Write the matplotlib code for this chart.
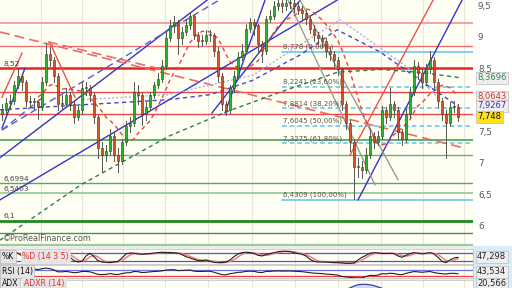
import matplotlib
matplotlib.use('Agg')
import matplotlib.pyplot as plt
import matplotlib.transforms as mtransforms
from matplotlib.patches import Rectangle
import numpy as np
import pandas as pd

# ---------------- data ----------------
closes = [7.86, 7.97, 8.00, 8.25, 8.40, 8.30, 8.00, 7.98, 7.98, 7.90,
          8.30, 8.75, 8.65, 8.40, 7.95, 7.95, 8.10, 7.95, 7.75, 7.85,
          8.20, 8.20, 8.10, 7.75, 7.25, 7.15, 7.20, 7.45, 7.15, 7.05,
          7.35, 7.60, 7.65, 8.15, 8.10, 7.80, 7.90, 8.10, 8.25, 8.35,
          8.55, 9.00, 9.20, 9.25, 9.00, 9.10, 9.20, 9.35, 9.05, 8.95,
          8.95, 9.05, 9.05, 8.80, 8.40, 7.95, 7.85, 8.20, 8.40, 8.70,
          8.80, 9.15, 9.25, 9.20, 8.90, 8.80, 9.30, 9.35, 9.50, 9.55,
          9.50, 9.55, 9.55, 9.50, 9.45, 9.40, 9.30, 9.15, 9.05, 9.00,
          8.95, 8.80, 8.75, 8.65, 8.50, 7.95, 7.65, 7.35, 6.95, 6.95,
          6.90, 7.15, 7.45, 7.35, 7.45, 7.85, 7.75, 7.95, 7.85, 7.50,
          7.40, 7.80, 8.15, 8.55, 8.45, 8.30, 8.50, 8.65, 8.30, 8.00,
          7.80, 7.65, 7.90, 7.90, 7.75]
first_open = 7.80
highs = [7.95, 8.05, 8.10, 8.32, 8.50, 8.45, 8.33, 8.08, 8.05, 8.02,
         8.38, 8.92, 8.85, 8.70, 8.45, 8.10, 8.20, 8.15, 8.00, 7.92,
         8.30, 8.30, 8.25, 8.12, 7.78, 7.35, 7.30, 7.55, 7.50, 7.25,
         7.40, 7.68, 7.75, 8.30, 8.25, 8.12, 7.98, 8.15, 8.30, 8.45,
         8.65, 9.10, 9.28, 9.35, 9.28, 9.18, 9.30, 9.42, 9.38, 9.10,
         9.05, 9.12, 9.12, 9.08, 8.85, 8.45, 8.00, 8.25, 8.48, 8.78,
         8.90, 9.22, 9.32, 9.30, 9.22, 8.95, 9.35, 9.45, 9.58, 9.62,
         9.62, 9.62, 9.62, 9.60, 9.55, 9.50, 9.45, 9.35, 9.20, 9.10,
         9.05, 9.00, 8.85, 8.80, 8.70, 8.52, 8.00, 7.70, 7.40, 7.10,
         7.05, 7.25, 7.55, 7.50, 7.52, 7.92, 7.90, 8.20, 8.00, 7.90,
         7.55, 7.88, 8.22, 8.65, 8.62, 8.50, 8.58, 8.80, 8.70, 8.35,
         8.05, 7.85, 7.98, 8.00, 7.95]
lows = [7.70, 7.80, 7.88, 7.95, 8.20, 8.18, 7.92, 7.90, 7.88, 7.72,
        7.85, 8.25, 8.55, 8.30, 7.85, 7.88, 7.90, 7.85, 7.65, 7.70,
        7.80, 8.10, 8.00, 7.65, 7.10, 6.87, 7.05, 7.15, 7.05, 6.87,
        7.00, 7.30, 7.50, 7.60, 7.95, 7.62, 7.70, 7.85, 8.05, 8.20,
        8.30, 8.50, 8.95, 9.10, 8.75, 8.90, 9.05, 9.15, 8.98, 8.85,
        8.88, 8.90, 8.95, 8.72, 8.30, 7.85, 7.78, 7.80, 8.15, 8.35,
        8.65, 8.75, 9.10, 9.05, 8.78, 8.62, 8.75, 9.25, 9.30, 9.45,
        9.42, 9.45, 9.48, 9.42, 9.38, 9.30, 9.22, 9.08, 8.95, 8.90,
        8.85, 8.70, 8.65, 8.55, 8.42, 7.85, 7.55, 7.20, 6.45, 6.80,
        6.78, 6.85, 7.10, 7.25, 7.30, 7.40, 7.65, 7.70, 7.75, 7.40,
        7.30, 7.35, 7.75, 8.10, 8.35, 8.20, 8.25, 8.45, 8.20, 7.90,
        7.70, 7.10, 7.60, 7.82, 7.68]

stoch_k = [50, 60, 75, 85, 80, 60, 40, 35, 30, 45,
           80, 90, 85, 70, 40, 78, 80, 50, 25, 15,
           20, 60, 80, 55, 25, 15, 12, 10, 15, 20,
           45, 75, 82, 80, 75, 72, 75, 78, 82, 85,
           88, 85, 85, 83, 80, 70, 55, 45, 35, 25,
           25, 30, 20, 12, 10, 10, 15, 30, 55, 75,
           85, 88, 85, 78, 65, 60, 70, 78, 85, 92,
           95, 95, 92, 85, 78, 72, 60, 35, 20, 15,
           15, 15, 12, 10, 10, 8, 5, 5, 8, 30,
           50, 65, 80, 85, 82, 78, 78, 80, 78, 60,
           50, 65, 78, 85, 80, 75, 80, 85, 75, 50,
           20, 10, 30, 45, 50]

adx = [22, 21, 20, 20, 21, 22, 23, 22, 21, 20,
       21, 23, 25, 24, 23, 22, 21, 20, 20, 21,
       22, 22, 21, 22, 24, 26, 27, 27, 26, 25,
       24, 23, 23, 24, 24, 23, 22, 22, 23, 25,
       27, 30, 32, 33, 33, 32, 31, 31, 30, 28,
       27, 26, 25, 24, 24, 25, 25, 24, 24, 25,
       25, 26, 27, 27, 26, 25, 26, 27, 28, 29,
       30, 30, 30, 29, 28, 27, 26, 25, 25, 24,
       24, 24, 25, 26, 28, 32, 37, 42, 46, 49,
       50, 50, 49, 47, 44, 41, 38, 34, 30, 28,
       26, 25, 24, 23, 22, 22, 21, 21, 21, 21,
       21, 21, 21, 21, 21]

ma_long_idx = [-0.5, 20, 42, 57, 70, 84, 95, 105, 114.5]
ma_long_val = [5.79, 6.68, 7.45, 7.85, 8.15, 8.46, 8.50, 8.45, 8.37]
ma_mid_idx = [-0.5, 20.25, 41.5, 52, 62.75, 74.5, 83.75, 94.5, 104.5, 114]
ma_mid_val = [7.86, 7.94, 8.02, 8.10, 8.33, 8.73, 9.13, 8.78, 8.33, 7.92]
ma_light_idx = [20.25, 41.5, 62.75, 74.5, 84.5, 101.25, 109.5]
ma_light_val = [8.02, 8.10, 8.41, 8.89, 9.29, 8.54, 8.02]

red_levels = [9.24, 8.87, 8.52, 8.14, 7.79]
green_levels = [7.38, 7.14, 6.6994, 6.5403, 6.1, 5.905, 5.71]
fib_levels = [8.778, 8.2241, 7.8814, 7.6045, 7.3275, 6.4309]
fib_texts = ['8,778 (0,00%)', '8,2241 (23,60%)', '7,8814 (38,20%)', '7,6045 (50,00%)',
             '7,3275 (61,80%)', '6,4309 (100,00%)']
fib_start = 70.0

blue_solid = [((-0.5, 7.10), (51.25, 9.60)),
              ((-0.5, 6.43), (83.75, 9.60)),
              ((0.0, 7.57), (5.75, 8.52)),
              ((55.75, 7.81), (65.75, 9.60)),
              ((52.5, 7.81), (74.5, 9.60)),
              ((89.0, 6.43), (115.0, 9.60))]
blue_dashed = [((0.0, 7.54), (54.25, 9.60)),
               ((0.0, 7.54), (10.25, 8.06))]
gray_lines = [((71.5, 9.60), (93.25, 6.67)),
              ((74.5, 9.60), (99.0, 6.75))]
red_solid = [((0.0, 8.06), (5.0, 8.76)),
             ((12.0, 8.92), (18.25, 8.06)),
             ((87.0, 7.14), (107.75, 9.60))]
red_dashed = [((-0.5, 9.095), (115.75, 7.25)),
              ((11.5, 8.94), (40.75, 8.49))]

grid_idx = [9.75, 20, 30.25, 40.75, 51.5, 62.5, 73.25, 84, 94.75, 105.25, 115.5]
price_ticks = [6.0, 6.5, 7.0, 7.5, 8.5, 9.0, 9.5]
left_labels = [(8.52, '8,52'), (6.6994, '6,6994'), (6.5403, '6,5403'), (6.1, '6,1')]

last_vals = [8.3696, 8.0643, 7.9267, 7.748]
stoch_last, rsi_last, adx_last = '47,298', '43,534', '20,566'

# ---------------- figure ----------------
W, H = 512, 288
plt.rcParams['font.family'] = ['DejaVu Sans']
fig = plt.figure(figsize=(W / 100, H / 100), dpi=100, facecolor='white')


def rect(x0, y0, x1, y1):
    return [x0 / W, 1 - y1 / H, (x1 - x0) / W, (y1 - y0) / H]


bg = fig.add_axes([0, 0, 1, 1], zorder=-10)
bg.set_xlim(0, W); bg.set_ylim(H, 0); bg.axis('off')
bg.add_patch(Rectangle((0, 246), 473, 42, facecolor='#ECECEC', edgecolor='none'))
bg.add_patch(Rectangle((473, 246), 39, 42, facecolor='#D9ECF7', edgecolor='none'))

n = len(closes)
idx = np.arange(n)
opens = [first_open] + closes[:-1]
XL = (-0.5, 117.75)

ax = fig.add_axes(rect(0, 0, 473, 246))
ax.set_facecolor('#FFFFF3')
ax.set_xlim(*XL)
ax.set_ylim(5.698, 9.603)
for s in ax.spines.values():
    s.set_visible(False)
ax.set_xticks([]); ax.set_yticks([])

for g in grid_idx:
    ax.axvline(g, color='#E6E6DC', lw=0.8, zorder=0)

red_styles = [('#F19A9A', 1.3), ('#EE7070', 1.0), ('#E4252A', 1.8), ('#E94848', 1.0), ('#E94848', 1.0)]
for lv, (c, w) in zip(red_levels, red_styles):
    ax.axhline(lv, color=c, lw=w, zorder=2)
green_styles = [('#3C9C3C', 1.1), ('#66B466', 1.0), ('#5BA85B', 1.0), ('#9ACC9A', 1.3),
                ('#1F8A1F', 2.0), ('#3C9C3C', 1.0), ('#9ACC9A', 1.6)]
for lv, (c, w) in zip(green_levels, green_styles):
    ax.axhline(lv, color=c, lw=w, zorder=2)

for k, (lv, t) in enumerate(zip(fib_levels, fib_texts)):
    solid = k in (0, len(fib_levels) - 1)
    ax.plot([fib_start, XL[1]], [lv, lv], color='#5EC3F0', lw=1.1,
            ls='-' if solid else (0, (3, 2)), zorder=3)
    ax.text(fib_start + 0.3, lv + 0.025, t, fontsize=5.0, color='#555555',
            va='bottom', ha='left', zorder=7)

for (a, b) in blue_solid:
    ax.plot([a[0], b[0]], [a[1], b[1]], color='#3434C8', lw=1.0, zorder=3)
for (a, b) in blue_dashed:
    ax.plot([a[0], b[0]], [a[1], b[1]], color='#5A5AD8', lw=1.0, ls=(0, (5, 3)), zorder=3)
for (a, b) in gray_lines:
    ax.plot([a[0], b[0]], [a[1], b[1]], color='#9A9A9A', lw=1.0, zorder=3)
for (a, b) in red_solid:
    ax.plot([a[0], b[0]], [a[1], b[1]], color='#F05050', lw=1.0, zorder=3)
for (a, b) in red_dashed:
    ax.plot([a[0], b[0]], [a[1], b[1]], color='#EE6A6A', lw=1.2, ls=(0, (6, 3)), zorder=3)

sma10 = pd.Series(closes).rolling(10).mean()
ax.plot(idx, sma10, color='#EE4040', lw=1.0, ls=(0, (3, 2.5)), zorder=3)
ax.plot(ma_light_idx, ma_light_val, color='#A8B0F0', lw=1.0, ls=(0, (1.5, 1.5)), zorder=3)
ax.plot(ma_mid_idx, ma_mid_val, color='#4646C8', lw=1.0, ls=(0, (3, 2.5)), zorder=3)
ax.plot(ma_long_idx, ma_long_val, color='#2E7D4F', lw=1.0, ls=(0, (3, 2.5)), zorder=3)

for i in idx:
    o, c, h, l = opens[i], closes[i], highs[i], lows[i]
    ax.plot([i, i], [l, h], color='#555555', lw=0.7, zorder=5)
    col = '#2DB52D' if c > o else ('#D9542A' if c < o else '#888888')
    body = max(abs(c - o), 0.015)
    ax.add_patch(Rectangle((i - 0.32, min(o, c)), 0.64, body, facecolor=col,
                           edgecolor='#333333', lw=0.4, zorder=6))

for lv, t in left_labels:
    ax.text(0.3, lv + 0.02, t, fontsize=5.3, color='#444444', va='bottom', ha='left', zorder=7)
ax.text(0.3, 5.74, '©ProRealFinance.com', fontsize=5.8, color='#555555', va='bottom',
        ha='left', zorder=7)

trans = mtransforms.blended_transform_factory(ax.transAxes, ax.transData)
for p in price_ticks:
    lab = f"{p:g}".replace('.', ',')
    ax.text(478 / 473, p, lab, transform=trans, fontsize=6.3, color='#555555',
            va='center', ha='left', clip_on=False)
for val, col, bgc in zip(last_vals, ['#2E8B4F', '#E03030', '#3434B8', '#111111'],
                         ['#EEEEEE', '#EEEEEE', '#EEEEEE', '#FFE21A']):
    lab = f"{val:g}".replace('.', ',')
    ax.text(477 / 473, val, lab, transform=trans, fontsize=6.0, color=col, va='center',
            ha='left', clip_on=False, zorder=10,
            bbox=dict(boxstyle='square,pad=0.18', facecolor=bgc, edgecolor='#BBBBBB', lw=0.5))


def sub_axes(y0, y1, ylim):
    a = fig.add_axes(rect(0, y0, 473, y1))
    a.set_facecolor('#FFFFF3')
    a.set_xlim(*XL)
    a.set_ylim(*ylim)
    a.set_xticks([]); a.set_yticks([])
    for s_ in a.spines.values():
        s_.set_color('#C8C8C8'); s_.set_linewidth(0.6)
    for g in grid_idx:
        a.axvline(g, color='#E6E6DC', lw=0.8, zorder=0)
    return a


box = dict(boxstyle='square,pad=0.2', facecolor='#E4E4E4', edgecolor='#BBBBBB', lw=0.5)
vbox = dict(boxstyle='square,pad=0.18', facecolor='#EEEEEE', edgecolor='#BBBBBB', lw=0.5)

# stochastic
ax2 = sub_axes(249, 264, (0, 112))
ax2.axhline(80, color='#5050E0', lw=0.9)
ax2.axhline(20, color='#5050E0', lw=0.9)
ks = pd.Series(stoch_k, dtype=float)
ax2.plot(idx, ks.rolling(3).mean(), color='#F08080', lw=1.1)
ax2.plot(idx, ks, color='#222222', lw=0.8)
ax2.text(0.004, 0.5, '%K', transform=ax2.transAxes, fontsize=5.6, color='#111111',
         va='center', ha='left', zorder=5, bbox=box)
ax2.text(0.047, 0.5, '%D (14 3 5)', transform=ax2.transAxes, fontsize=5.6, color='#E03030',
         va='center', ha='left', zorder=5, bbox=dict(box, edgecolor='#E4E4E4'))
ax2.text(477 / 473, 0.5, stoch_last, transform=ax2.transAxes, fontsize=6.0, color='#222222',
         va='center', ha='left', clip_on=False, bbox=vbox)

# RSI
d = pd.Series(closes).diff()
up = d.clip(lower=0).ewm(alpha=1 / 14, min_periods=7, adjust=False).mean()
dn = (-d.clip(upper=0)).ewm(alpha=1 / 14, min_periods=7, adjust=False).mean()
rsi = 100 - 100 / (1 + up / dn)
ax3 = sub_axes(265, 278, (15, 105))
ax3.axhline(70, color='#7070E8', lw=0.9)
ax3.axhline(30, color='#E84040', lw=0.9)
ax3.plot(idx, rsi, color='#222222', lw=0.8)
ax3.text(0.004, 0.5, 'RSI (14)', transform=ax3.transAxes, fontsize=5.6, color='#111111',
         va='center', ha='left', zorder=5, bbox=box)
ax3.text(477 / 473, 0.5, rsi_last, transform=ax3.transAxes, fontsize=6.0, color='#222222',
         va='center', ha='left', clip_on=False, bbox=vbox)

# ADX
ax4 = sub_axes(280, 306, (0, 60))
a_ = pd.Series(adx, dtype=float)
adxr = (a_ + a_.shift(14)) / 2
ax4.fill_between(idx, a_, adxr, color='#9FB8E8', alpha=0.5, lw=0)
ax4.plot(idx, adxr, color='#F08080', lw=1.0)
ax4.plot(idx, a_, color='#3A3AB0', lw=0.9)
ax4.text(0.004, 0.85, 'ADX', transform=ax4.transAxes, fontsize=5.6, color='#111111',
         va='center', ha='left', zorder=5, bbox=box)
ax4.text(0.05, 0.85, 'ADXR (14)', transform=ax4.transAxes, fontsize=5.6, color='#E03030',
         va='center', ha='left', zorder=5, bbox=dict(box, edgecolor='#E4E4E4'))
ax4.text(477 / 473, 0.85, adx_last, transform=ax4.transAxes, fontsize=6.0, color='#222222',
         va='center', ha='left', clip_on=False, bbox=vbox)

fig.savefig('out.png', dpi=100, facecolor=fig.get_facecolor())
